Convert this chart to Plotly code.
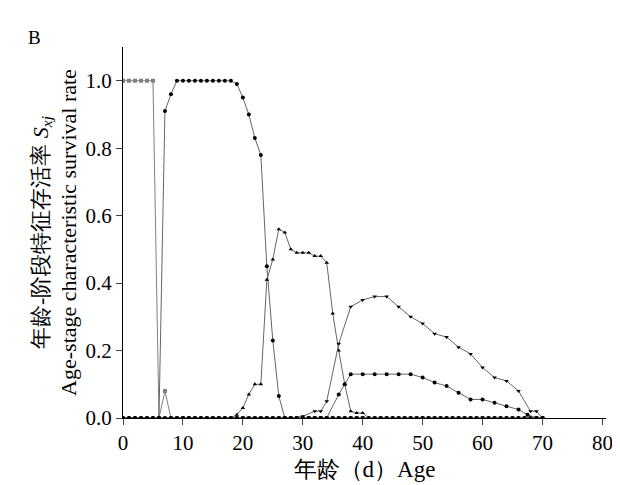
import plotly.graph_objects as go

days = list(range(0, 71))

# egg
egg_x = [0, 1, 2, 3, 4, 5, 6, 7, 8]
egg_y = [1.0, 1.0, 1.0, 1.0, 1.0, 1.0, 0.0, 0.08, 0.0]

# larva
larva_x = list(range(0, 28))
larva_y = [0, 0, 0, 0, 0, 0, 0, 0.91, 0.96, 1.0, 1.0, 1.0, 1.0, 1.0, 1.0, 1.0,
           1.0, 1.0, 1.0, 0.99, 0.95, 0.90, 0.83, 0.78, 0.45, 0.23, 0.065, 0]

# pupa
pupa_x = list(range(0, 42))
pupa_y = [0] * 19 + [0.01, 0.03, 0.07, 0.10, 0.10, 0.41, 0.47, 0.56, 0.55, 0.50,
                     0.49, 0.49, 0.49, 0.48, 0.48, 0.46, 0.31, 0.20, 0.10, 0.02,
                     0.015, 0.015, 0]

# female
fem_x = [0, 10, 20, 28, 30, 32, 33, 34, 36, 38, 40, 42, 44, 46, 48, 50, 52, 54,
         56, 58, 60, 62, 64, 66, 68, 69, 70]
fem_y = [0, 0, 0, 0, 0.005, 0.02, 0.02, 0.05, 0.22, 0.33, 0.35, 0.36, 0.36, 0.33,
         0.30, 0.28, 0.25, 0.24, 0.21, 0.19, 0.15, 0.12, 0.11, 0.08, 0.02, 0.02, 0]

# male
male_x = [0, 10, 20, 30, 34, 36, 37, 38, 40, 42, 44, 46, 48, 50, 52, 54, 56, 58,
          60, 62, 64, 66, 67.5, 70]
male_y = [0, 0, 0, 0, 0, 0.07, 0.10, 0.13, 0.13, 0.13, 0.13, 0.13, 0.13, 0.12,
          0.105, 0.095, 0.075, 0.055, 0.055, 0.045, 0.035, 0.025, 0.01, 0]


def fill(xs, ys):
    # add zero points on the days outside the non-zero part (baseline markers)
    nz = [x for x, y in zip(xs, ys) if y > 0]
    lo, hi = min(nz), max(nz)
    d = dict(zip(xs, ys))
    allx = sorted(set(x for x in xs if lo - 1 <= x <= hi + 1) |
                  set(x for x in days if x < lo - 1 or x > hi + 1))
    return allx, [d.get(x, 0) for x in allx]


fig = go.Figure()
series = [
    (egg_x, egg_y, "square", "#808080"),
    (larva_x, larva_y, "circle", "black"),
    (pupa_x, pupa_y, "triangle-up", "black"),
    (fem_x, fem_y, "triangle-down", "black"),
    (male_x, male_y, "circle", "black"),
]
for xs, ys, sym, col in series:
    x, y = fill(xs, ys)
    fig.add_trace(go.Scatter(
        x=x, y=y, mode="lines+markers",
        line=dict(color="#666666" if col == "black" else col, width=1),
        marker=dict(symbol=sym, size=4, color=col),
        showlegend=False,
    ))

serif = "Liberation Serif"
fig.update_layout(
    width=620, height=485,
    margin=dict(l=115, r=22, t=39, b=75),
    plot_bgcolor="white", paper_bgcolor="white",
    font=dict(family=serif, size=21, color="black"),
    annotations=[dict(text="B", x=-0.2, y=1.06, xref="paper", yref="paper",
                      showarrow=False, font=dict(family=serif, size=19), xanchor="left")],
    xaxis=dict(range=[0, 80.6], dtick=10, ticks="outside", ticklen=6,
               showline=True, linecolor="black", showgrid=False, zeroline=False,
               tickfont=dict(family=serif, size=21),
               title=dict(text="年龄（d）Age", standoff=6, font=dict(family=serif, size=23))),
    yaxis=dict(range=[0, 1.1], tickvals=[0, 0.2, 0.4, 0.6, 0.8, 1.0],
               tickformat=".1f", ticks="outside", ticklen=6,
               showline=True, linecolor="black", showgrid=False, zeroline=False,
               tickfont=dict(family=serif, size=21),
               title=dict(text="年龄-阶段特征存活率 <i>S<sub>xj</sub></i><br>Age-stage characteristic survival rate",
                          standoff=2, font=dict(family=serif, size=22))),
)
fig.write_html("out.html")
